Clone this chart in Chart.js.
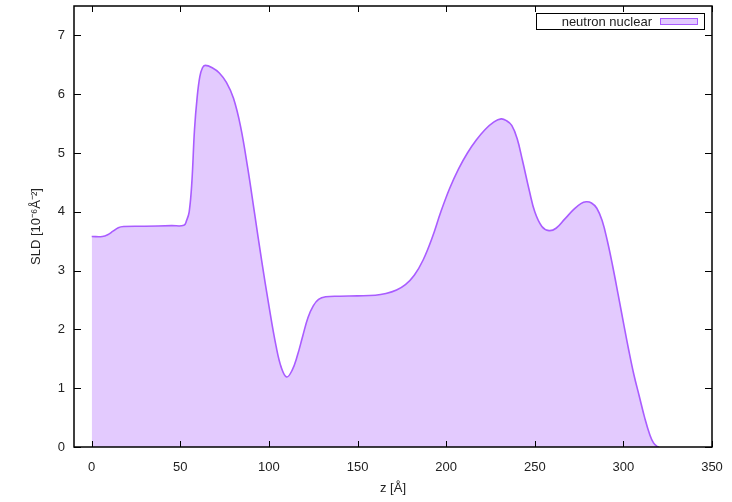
<!DOCTYPE html>
<html>
<head>
<meta charset="utf-8">
<script src="https://cdn.jsdelivr.net/npm/chart.js@4.4.1/dist/chart.umd.min.js"></script>
<style>
  html, body { margin: 0; padding: 0; background: #fff; }
  #wrap { width: 732px; height: 502px; }
</style>
</head>
<body>
<div id="wrap"><canvas id="sld-chart" width="732" height="502"></canvas></div>
<script>
// profile: depth z [Å] and SLD [10^-6 Å^-2]
const zValues = [0, 6, 9, 12, 15, 18, 30, 45, 52, 53.5, 55, 56.5, 58, 59.5, 61, 62.5, 64, 68, 72, 76, 80, 84, 88, 92, 96, 100, 104, 107, 110, 113, 116, 119, 122, 125, 128, 132, 140, 150, 160, 166, 172, 177, 182, 187, 192, 197, 202, 207, 212, 217, 222, 227, 231, 234, 237, 240, 243, 247, 250, 254, 258, 262, 267, 272, 276, 279, 282, 285, 288, 291, 294, 297, 300, 303, 306, 309, 312, 315, 317, 319, 320];
const sldValues = [3.58, 3.58, 3.61, 3.67, 3.73, 3.75, 3.755, 3.765, 3.77, 3.85, 4.0, 4.5, 5.4, 5.95, 6.3, 6.45, 6.49, 6.45, 6.36, 6.2, 5.93, 5.45, 4.75, 3.95, 3.15, 2.4, 1.72, 1.35, 1.19, 1.3, 1.55, 1.88, 2.2, 2.4, 2.51, 2.555, 2.565, 2.57, 2.58, 2.61, 2.67, 2.76, 2.92, 3.18, 3.55, 4.0, 4.4, 4.73, 5.0, 5.22, 5.4, 5.53, 5.58, 5.55, 5.47, 5.25, 4.88, 4.35, 4.0, 3.75, 3.68, 3.72, 3.88, 4.04, 4.14, 4.17, 4.15, 4.06, 3.85, 3.5, 3.07, 2.6, 2.12, 1.65, 1.22, 0.86, 0.5, 0.2, 0.07, 0.01, 0];
const xTicks = [0, 50, 100, 150, 200, 250, 300, 350];
const yTicks = [0, 1, 2, 3, 4, 5, 6, 7];
const seriesLabel = "neutron nuclear";

const lineColor = "#a95cff";
const fillColor = "rgb(227, 202, 254)";
const textColor = "#222";
const font = { family: "'Liberation Sans', Arial, sans-serif", size: 13 };

// gnuplot style: frame, inward ticks on all four sides, legend inside top right
const framePlugin = {
  id: "frame",
  afterDatasetsDraw(chart) {
    const { ctx, chartArea: a, scales } = chart;
    ctx.save();
    ctx.strokeStyle = "#000";
    ctx.lineWidth = 1;
    ctx.beginPath();
    scales.x.ticks.forEach((t) => {
      const px = Math.round(scales.x.getPixelForValue(t.value)) + 0.5;
      ctx.moveTo(px, a.bottom); ctx.lineTo(px, a.bottom - 6);
      ctx.moveTo(px, a.top); ctx.lineTo(px, a.top + 6);
    });
    scales.y.ticks.forEach((t) => {
      const py = Math.round(scales.y.getPixelForValue(t.value)) + 0.5;
      ctx.moveTo(a.left, py); ctx.lineTo(a.left + 7, py);
      ctx.moveTo(a.right, py); ctx.lineTo(a.right - 7, py);
    });
    ctx.stroke();
    ctx.lineWidth = 1.5;
    ctx.strokeRect(a.left, a.top, a.right - a.left, a.bottom - a.top);

    // legend box
    const bx = a.right - 176, by = a.top + 7, bw = 168, bh = 16;
    ctx.fillStyle = "#fff";
    ctx.fillRect(bx, by, bw, bh);
    ctx.lineWidth = 1;
    ctx.strokeRect(bx + 0.5, by + 0.5, bw, bh);
    ctx.font = "13px 'Liberation Sans', Arial, sans-serif";
    ctx.fillStyle = textColor;
    ctx.textAlign = "right";
    ctx.textBaseline = "middle";
    ctx.fillText(seriesLabel, bx + 116, by + bh / 2 + 1);
    ctx.fillStyle = fillColor;
    ctx.fillRect(bx + 124, by + 5, 37, 7);
    ctx.strokeStyle = lineColor;
    ctx.strokeRect(bx + 124.5, by + 5.5, 37, 6);
    ctx.restore();
  },
};

const ctx = document.getElementById("sld-chart").getContext("2d");
new Chart(ctx, {
  type: "line",
  data: {
    datasets: [
      {
        label: seriesLabel,
        data: zValues.map((z, i) => ({ x: z, y: sldValues[i] })),
        borderColor: lineColor,
        backgroundColor: fillColor,
        borderWidth: 1.6,
        fill: "origin",
        pointRadius: 0,
        tension: 0.4,
      },
    ],
  },
  options: {
    responsive: false,
    animation: false,
    layout: { padding: { top: 6, right: 20, left: 0, bottom: 0 } },
    plugins: { legend: { display: false }, tooltip: { enabled: false } },
    scales: {
      x: {
        type: "linear",
        min: -10,
        max: 350,
        afterBuildTicks: (s) => { s.ticks = xTicks.map((v) => ({ value: v })); },
        afterFit: (s) => { s.height = 55; s.paddingLeft = 0; s.paddingRight = 0; },
        grid: { display: false, drawTicks: false },
        border: { display: false },
        ticks: { padding: 13, color: textColor, font },
        title: { display: true, text: "z [Å]", color: textColor, padding: { top: 4, bottom: 6 }, font },
      },
      y: {
        min: 0,
        max: 7.5,
        afterBuildTicks: (s) => { s.ticks = yTicks.map((v) => ({ value: v })); },
        afterFit: (s) => { s.width = 74; s.paddingTop = 0; s.paddingBottom = 0; },
        grid: { display: false, drawTicks: false },
        border: { display: false },
        ticks: { padding: 9, color: textColor, font },
        title: { display: true, text: "SLD [10⁻⁶Å⁻²]", color: textColor, padding: { top: 29, bottom: 0 }, font },
      },
    },
  },
  plugins: [framePlugin],
});
</script>
</body>
</html>
